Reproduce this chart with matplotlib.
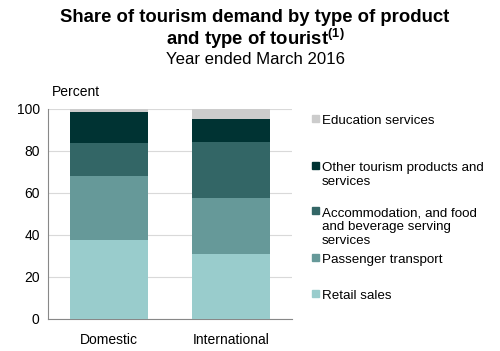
import matplotlib
matplotlib.use('Agg')
import matplotlib.pyplot as plt
import numpy as np

plt.rcParams['font.family'] = ['Liberation Sans', 'DejaVu Sans']
plt.rcParams['mathtext.fontset'] = 'custom'
plt.rcParams['mathtext.rm'] = 'Liberation Sans'
plt.rcParams['mathtext.bf'] = 'Liberation Sans:bold'

# Datos
tourists = ['Domestic', 'International']
retail = [37.5, 31.0]
transport = [30.4, 26.8]
accommodation = [16.1, 26.6]
other = [14.4, 11.0]
education = [1.6, 4.6]

series = [
    ('Retail sales', retail, '#99cccc'),
    ('Passenger transport', transport, '#669999'),
    ('Accommodation, and food\nand beverage serving\nservices', accommodation, '#336666'),
    ('Other tourism products and\nservices', other, '#003333'),
    ('Education services', education, '#cccccc'),
]

fig = plt.figure(figsize=(5, 3.51), dpi=100)
ax = fig.add_axes([48 / 500, 1 - 319 / 351, 244 / 500, 210 / 351])

x = np.arange(len(tourists))
bottom = np.zeros(len(tourists))
for name, vals, color in series:
    ax.bar(x, vals, 0.64, bottom=bottom, color=color, zorder=3)
    bottom += np.array(vals)

ax.set_xlim(-0.5, 1.5)
ax.set_ylim(0, 100)
ax.set_yticks(range(0, 101, 20))
ax.set_xticks(x)
ax.set_xticklabels(tourists, fontsize=10)
ax.tick_params(axis='y', labelsize=10, length=0, pad=6)
ax.tick_params(axis='x', length=0, pad=10)
ax.grid(axis='y', color='#d9d9d9', linewidth=0.8, zorder=0)
for s in ['top', 'right']:
    ax.spines[s].set_visible(False)
ax.spines['left'].set_color('#888888')
ax.spines['bottom'].set_color('#888888')

fig.text(52 / 500, 1 - 92 / 351, 'Percent', fontsize=10, va='center', ha='left')

# Titulo
fig.text(0.51, 1 - 18 / 351, 'Share of tourism demand by type of product',
         fontsize=13.3, fontweight='bold', ha='center', va='center')
fig.text(0.51, 1 - 39 / 351, r'and type of tourist$^{\mathbf{(1)}}$',
         fontsize=13.3, fontweight='bold', ha='center', va='center')
fig.text(0.51, 1 - 60 / 351, 'Year ended March 2016',
         fontsize=12.1, ha='center', va='center')

# Leyenda manual
legend_y = [293, 257, 210, 165, 118]
for (name, vals, color), yy in zip(series, legend_y):
    fig.patches.append(plt.Rectangle((312 / 500, 1 - (yy + 3.5) / 351), 7 / 500, 7 / 351,
                                     transform=fig.transFigure, color=color, figure=fig))
    fig.text(322 / 500, 1 - (yy - 3) / 351, name, fontsize=9.6, ha='left', va='top',
             linespacing=1.2)

plt.savefig('out.png')
plt.close()
